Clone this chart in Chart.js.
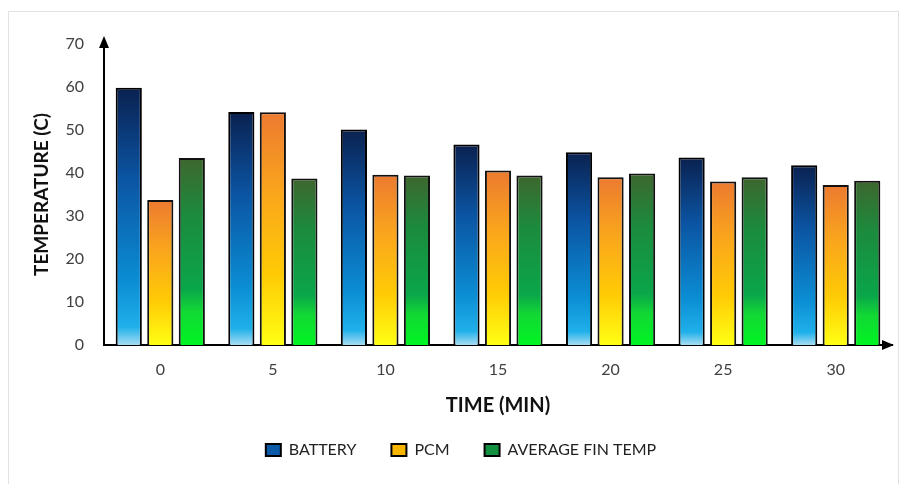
<!DOCTYPE html>
<html>
<head>
<meta charset="utf-8">
<script src="https://cdn.jsdelivr.net/npm/chart.js@4.4.1/dist/chart.umd.min.js"></script>
<style>
    html, body { margin: 0; padding: 0; background: #fff; }
    #wrap { position: relative; width: 900px; height: 484px; }
    #frame { position: absolute; left: 8px; top: 11px; width: 889px; height: 480px; border: 1px solid #e2e2e2; }
    canvas { position: absolute; left: 0; top: 0; }
</style>
</head>
<body>
<div id="wrap">
    <div id="frame"></div>
    <canvas id="myChart" width="900" height="484"></canvas>
</div>
<script>
const times = ["0", "5", "10", "15", "20", "25", "30"];
const battery = [59.8, 54.2, 50.1, 46.6, 44.8, 43.6, 41.8];
const pcm = [33.7, 54.1, 39.6, 40.6, 39.0, 38.0, 37.2];
const finTemp = [43.5, 38.7, 39.4, 39.4, 39.9, 39.0, 38.2];
const yTicks = [0, 10, 20, 30, 40, 50, 60, 70];

const batteryStops = [[0, "#0a2150"], [0.35, "#0b54a2"], [0.75, "#0b8dd4"], [0.93, "#1fb0ea"], [1, "#a6dcf2"]];
const pcmStops = [[0, "#ec7a30"], [0.35, "#faa61c"], [0.7, "#ffcb05"], [1, "#ffff14"]];
const finStops = [[0, "#3e662e"], [0.3, "#1c8a3c"], [0.7, "#0aa64a"], [0.82, "#12d834"], [1, "#00f522"]];

function barGradient(stops) {
    return function(context) {
        const chart = context.chart;
        if (!chart.chartArea || context.parsed == null) return stops[1][1];
        const y = chart.scales.y;
        const top = y.getPixelForValue(context.parsed.y);
        const base = y.getPixelForValue(0);
        const g = chart.ctx.createLinearGradient(0, top, 0, base);
        for (let i = 0; i < stops.length; i++) g.addColorStop(stops[i][0], stops[i][1]);
        return g;
    };
}

// arrow heads on both axes
const axisArrows = {
    id: "axisArrows",
    afterDraw(chart) {
        const ctx = chart.ctx;
        const a = chart.chartArea;
        ctx.save();
        ctx.fillStyle = "#000";
        ctx.beginPath();
        ctx.moveTo(a.left, a.top - 8);
        ctx.lineTo(a.left - 5, a.top + 4);
        ctx.lineTo(a.left + 5, a.top + 4);
        ctx.fill();
        ctx.beginPath();
        ctx.moveTo(a.right + 2, a.bottom);
        ctx.lineTo(a.right - 10, a.bottom - 5);
        ctx.lineTo(a.right - 10, a.bottom + 5);
        ctx.fill();
        ctx.restore();
    }
};

const legendFill = ["#0b5aa8", "#f7b500", "#129040"];

const ctx = document.getElementById("myChart").getContext("2d");
const myChart = new Chart(ctx, {
    type: "bar",
    data: {
        labels: times,
        datasets: [{
            label: "BATTERY",
            data: battery,
            backgroundColor: barGradient(batteryStops),
            borderColor: "#000",
            borderWidth: 2,
        }, {
            label: "PCM",
            data: pcm,
            backgroundColor: barGradient(pcmStops),
            borderColor: "#111",
            borderWidth: 2,
        }, {
            label: "AVERAGE FIN TEMP",
            data: finTemp,
            backgroundColor: barGradient(finStops),
            borderColor: "#111",
            borderWidth: 2,
        }],
    },
    options: {
        responsive: false,
        animation: false,
        categoryPercentage: 0.84,
        barPercentage: 0.83,
        layout: { padding: { top: 44, right: 8, left: 30, bottom: 16 } },
        plugins: {
            tooltip: { enabled: false },
            legend: {
                position: "bottom",
                labels: {
                    font: { family: "Lato", size: 16 },
                    color: "#222",
                    boxWidth: 15,
                    boxHeight: 12,
                    padding: 35,
                    generateLabels: function(chart) {
                        return chart.data.datasets.map(function(ds, i) {
                            return {
                                text: ds.label,
                                fillStyle: legendFill[i],
                                strokeStyle: "#000",
                                lineWidth: 2,
                                fontColor: "#222",
                                datasetIndex: i,
                            };
                        });
                    },
                },
            },
        },
        scales: {
            x: {
                afterFit: function(scale) { scale.height = 62; },
                grid: { display: false, drawTicks: false },
                border: { color: "#000", width: 2 },
                ticks: { font: { family: "Lato", size: 16 }, color: "#404040", padding: 15 },
                title: {
                    display: true,
                    text: "TIME (MIN)",
                    font: { family: "Lato", size: 20, weight: "bold" },
                    color: "#111",
                    padding: { top: 0, bottom: -11 },
                },
            },
            y: {
                min: 0,
                max: 70,
                afterFit: function(scale) { scale.width = 74; },
                afterBuildTicks: function(scale) {
                    scale.ticks = yTicks.map(function(v) { return { value: v }; });
                },
                grid: { display: false, drawTicks: false },
                border: { color: "#000", width: 2 },
                ticks: { font: { family: "Lato", size: 16 }, color: "#404040", padding: 20 },
                title: {
                    display: true,
                    text: "TEMPERATURE (C)",
                    font: { family: "Lato", size: 19, weight: "bold" },
                    color: "#111",
                    padding: { top: 0, bottom: 0 },
                },
            },
        },
    },
    plugins: [axisArrows],
});
</script>
</body>
</html>
